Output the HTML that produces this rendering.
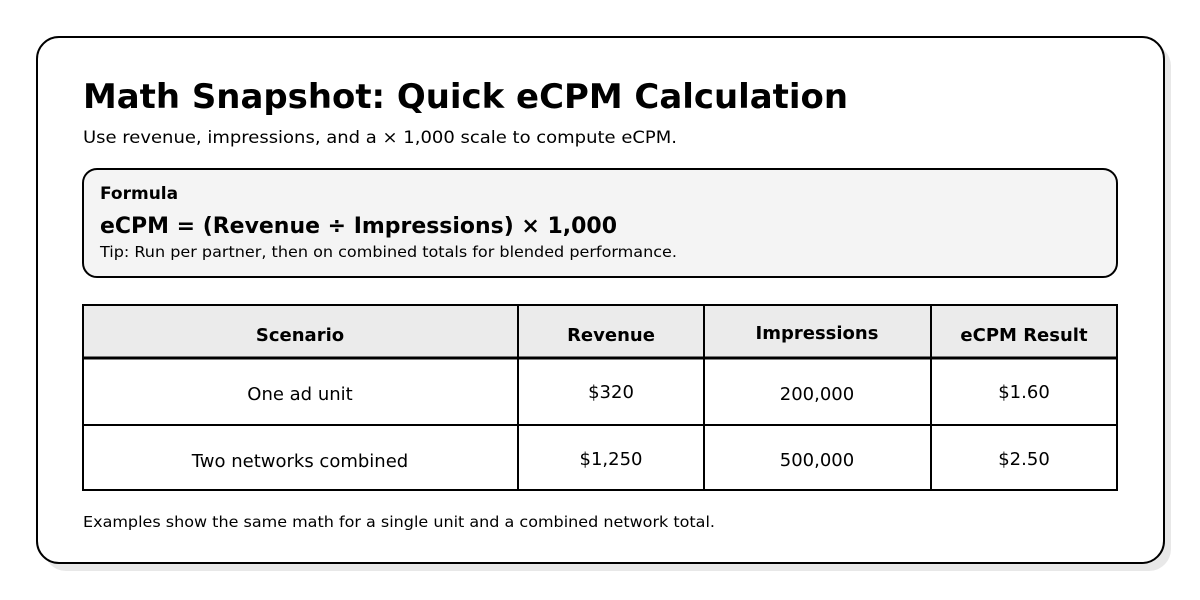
<!DOCTYPE html>
<html><head><meta charset="utf-8"><style>
html,body{margin:0;padding:0;background:#fff;}
svg{display:block;font-family:"DejaVu Sans","Liberation Sans",sans-serif;}
</style></head><body>
<svg width="1200" height="600" viewBox="0 0 1200 600">
<rect x="44" y="44" width="1127" height="527" rx="22" fill="#e8e8e8"/>
<rect x="37" y="37" width="1127" height="526" rx="22" fill="#fff" stroke="#000" stroke-width="2"/>
<text x="83" y="108" font-size="34" font-weight="bold" textLength="765" lengthAdjust="spacingAndGlyphs">Math Snapshot: Quick eCPM Calculation</text>
<text x="83" y="143" font-size="17" textLength="594" lengthAdjust="spacingAndGlyphs">Use revenue, impressions, and a × 1,000 scale to compute eCPM.</text>
<rect x="83" y="169" width="1034" height="108" rx="14" fill="#f4f4f4" stroke="#000" stroke-width="2"/>
<text x="100" y="199" font-size="17" font-weight="bold">Formula</text>
<text x="100" y="233" font-size="22" font-weight="bold" textLength="517" lengthAdjust="spacingAndGlyphs">eCPM = (Revenue ÷ Impressions) × 1,000</text>
<text x="100" y="257" font-size="15" textLength="577" lengthAdjust="spacingAndGlyphs">Tip: Run per partner, then on combined totals for blended performance.</text>
<rect x="83" y="305" width="1034" height="53" fill="#ebebeb"/>
<g stroke="#000" stroke-width="2" fill="none">
<rect x="83" y="305" width="1034" height="185"/>
<line x1="518" y1="305" x2="518" y2="490"/>
<line x1="704" y1="305" x2="704" y2="490"/>
<line x1="931" y1="305" x2="931" y2="490"/>
<line x1="83" y1="358" x2="1117" y2="358" stroke-width="3"/>
<line x1="83" y1="425" x2="1117" y2="425"/>
</g>
<g font-size="18" font-weight="bold" text-anchor="middle">
<text x="300" y="341">Scenario</text>
<text x="611" y="341">Revenue</text>
<text x="817" y="339">Impressions</text>
<text x="1024" y="341">eCPM Result</text>
</g>
<g font-size="18" text-anchor="middle">
<text x="300" y="400">One ad unit</text>
<text x="611" y="398">$320</text>
<text x="817" y="400">200,000</text>
<text x="1024" y="398">$1.60</text>
<text x="300" y="467">Two networks combined</text>
<text x="611" y="465">$1,250</text>
<text x="817" y="466">500,000</text>
<text x="1024" y="465">$2.50</text>
</g>
<text x="83" y="527" font-size="15" textLength="632" lengthAdjust="spacingAndGlyphs">Examples show the same math for a single unit and a combined network total.</text>
</svg>
</body></html>
